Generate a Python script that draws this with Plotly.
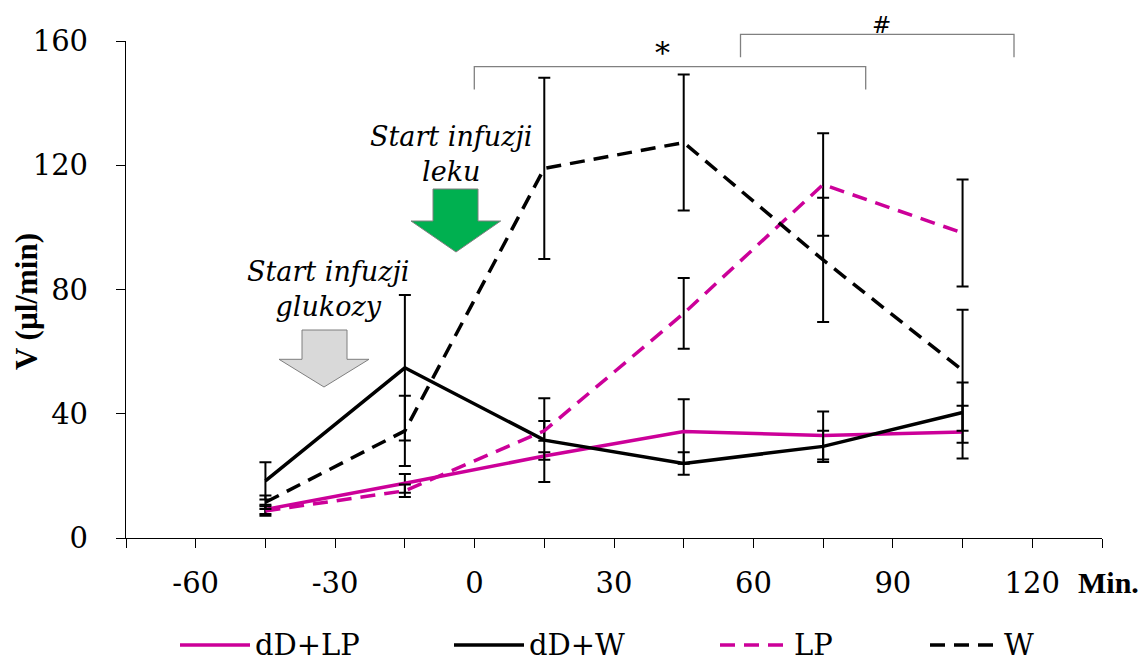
import plotly.graph_objects as go

# ---------------- data ----------------
minutes = [-45, -15, 15, 45, 75, 105]
series_names = ["dD+LP", "dD+W", "LP", "W"]
dDLP_vals = [9.2, 17.6, 26.4, 34.3, 33.0, 34.1]
dDLP_err = [1.5, 3.0, 1.2, 10.4, 7.7, 8.5]
dDW_vals = [18.4, 54.8, 31.5, 24.0, 29.5, 40.4]
dDW_err = [6.0, 23.4, 13.5, 3.6, 5.0, 9.7]
LP_vals = [8.7, 15.2, 34.5, 72.3, 113.8, 98.2]
LP_err = [1.5, 2.0, 3.2, 11.4, 16.5, 17.2]
W_vals = [11.5, 34.5, 119.0, 127.3, 89.5, 54.0]
W_err = [2.2, 11.3, 29.2, 21.9, 20.0, 19.5]

x_tickvals = list(range(-75, 136, 15))
x_ticklabels = ["" if v % 30 != 0 else str(v) for v in x_tickvals]
y_tickvals = [0, 40, 80, 120, 160]

MAG = "#CC0099"
BLK = "#000000"
DASH = "15px,9px"
styles = {
    "dD+LP": dict(color=MAG, dash="solid"),
    "dD+W": dict(color=BLK, dash="solid"),
    "LP": dict(color=MAG, dash=DASH),
    "W": dict(color=BLK, dash=DASH),
}
values = {"dD+LP": (dDLP_vals, dDLP_err), "dD+W": (dDW_vals, dDW_err),
          "LP": (LP_vals, LP_err), "W": (W_vals, W_err)}

SERIF = "DejaVu Serif"
BOLD = "Liberation Serif"

fig = go.Figure()
for name in series_names:
    v, e = values[name]
    st = styles[name]
    fig.add_trace(go.Scatter(
        x=minutes, y=v, name=name, mode="lines",
        line=dict(color=st["color"], width=3.5, dash=st["dash"]),
        error_y=dict(type="data", array=e, visible=True, color="black",
                     thickness=2, width=6),
        showlegend=False, hoverinfo="skip",
    ))

# ---------------- geometry helpers ----------------
L, R, T, B = 126, 41, 41, 123
W_PX, H_PX = 1143, 661
pw = W_PX - L - R
ph = H_PX - T - B

def px2x(px):
    return -75 + (px - L) * 210.0 / pw

def py2y(py):
    return (538 - py) * 160.0 / ph

def px2paper(px):
    return (px - L) / pw

def py2paper(py):
    return (538 - py) / ph

shapes = []
annotations = []

# block arrows
def block_arrow(sx0, sx1, top, hx0, hx1, hy, tipx, tipy, fill):
    pts = [(sx0, top), (sx1, top), (sx1, hy), (hx1, hy), (tipx, tipy),
           (hx0, hy), (sx0, hy)]
    path = "M " + " L ".join(f"{px2x(a):.3f},{py2y(b):.3f}" for a, b in pts) + " Z"
    shapes.append(dict(type="path", path=path, xref="x", yref="y",
                       fillcolor=fill, line=dict(color="#7f7f7f", width=1)))

block_arrow(302, 347, 330, 279, 369, 359.3, 324, 387, "#D9D9D9")
block_arrow(433, 478, 189, 411, 500.7, 221, 456, 252, "#00B050")

annotations.append(dict(x=px2x(328), y=py2y(289), xref="x", yref="y",
                        xanchor="center", yanchor="middle",
                        text="<i>Start infuzji</i><br><i>glukozy</i>", showarrow=False,
                        font=dict(family=SERIF, size=27, color="black")))
annotations.append(dict(x=px2x(451), y=py2y(154), xref="x", yref="y",
                        xanchor="center", yanchor="middle",
                        text="<i>Start infuzji</i><br><i>leku</i>", showarrow=False,
                        font=dict(family=SERIF, size=27, color="black")))

# significance brackets
def bracket(px0, px1, py_top, py_bot):
    x0, x1 = px2x(px0), px2x(px1)
    yt, yb = py2paper(py_top), py2paper(py_bot)
    path = f"M {x0:.3f},{yb:.4f} L {x0:.3f},{yt:.4f} L {x1:.3f},{yt:.4f} L {x1:.3f},{yb:.4f}"
    shapes.append(dict(type="path", path=path, xref="x", yref="paper",
                       line=dict(color="#808080", width=1.3)))

bracket(474.3, 865.7, 66.7, 89.5)
bracket(740.5, 1014, 34.3, 57.3)
annotations.append(dict(x=px2x(662), y=py2paper(52), xref="x", yref="paper",
                        xanchor="center", yanchor="middle",
                        text="*", showarrow=False,
                        font=dict(family=SERIF, size=30, color="black")))
annotations.append(dict(x=px2x(881), y=py2paper(25), xref="x", yref="paper",
                        xanchor="center", yanchor="middle",
                        text="#", showarrow=False,
                        font=dict(family="DejaVu Sans", size=23, color="black")))

# y axis title
annotations.append(dict(x=px2paper(26), y=py2paper(302), xref="paper", yref="paper",
                        xanchor="center", yanchor="middle", textangle=-90,
                        text="<b>V (µl/min)</b>", showarrow=False,
                        font=dict(family=BOLD, size=31, color="black")))

# x axis unit label
annotations.append(dict(x=px2paper(1076), y=py2paper(582), xref="paper", yref="paper",
                        xanchor="left", yanchor="middle", text="<b>Min.</b>", showarrow=False,
                        font=dict(family=BOLD, size=30, color="black")))

# manual legend
leg_line = {"dD+LP": (180, 250), "dD+W": (454, 524), "LP": (720, 789), "W": (930, 999)}
leg_y = 645
for name in series_names:
    a, b = leg_line[name]
    st = styles[name]
    shapes.append(dict(type="line", xref="paper", yref="paper",
                       x0=px2paper(a), x1=px2paper(b), y0=py2paper(leg_y), y1=py2paper(leg_y),
                       line=dict(color=st["color"], width=3.5, dash=st["dash"])))
    annotations.append(dict(x=px2paper(b + 3), y=py2paper(leg_y), xref="paper", yref="paper",
                            xanchor="left", yanchor="middle", text=name, showarrow=False,
                            font=dict(family=SERIF, size=29, color="black")))

fig.update_layout(
    width=W_PX, height=H_PX,
    margin=dict(l=L, r=R, t=T, b=B, autoexpand=False),
    paper_bgcolor="white", plot_bgcolor="white",
    shapes=shapes, annotations=annotations,
    showlegend=False,
)
fig.update_xaxes(range=[-75, 135], tickvals=x_tickvals, ticktext=x_ticklabels,
                 showgrid=False, zeroline=False, showline=True, linecolor="black",
                 linewidth=1.3, ticks="outside", ticklen=9, tickcolor="black",
                 tickwidth=1, tickfont=dict(family=SERIF, size=29, color="black"),
                 ticklabelstandoff=10, automargin=False)
fig.update_yaxes(range=[0, 160], tickvals=y_tickvals, showgrid=False, zeroline=False,
                 showline=True, linecolor="black", linewidth=1.3, ticks="outside",
                 ticklen=9, tickcolor="black", tickwidth=1,
                 tickfont=dict(family=SERIF, size=29, color="black"),
                 ticklabelstandoff=22, automargin=False)

fig.write_html("out.html", config={"displayModeBar": False},
               post_script="document.body.style.margin='0px';document.body.style.padding='0px';")
